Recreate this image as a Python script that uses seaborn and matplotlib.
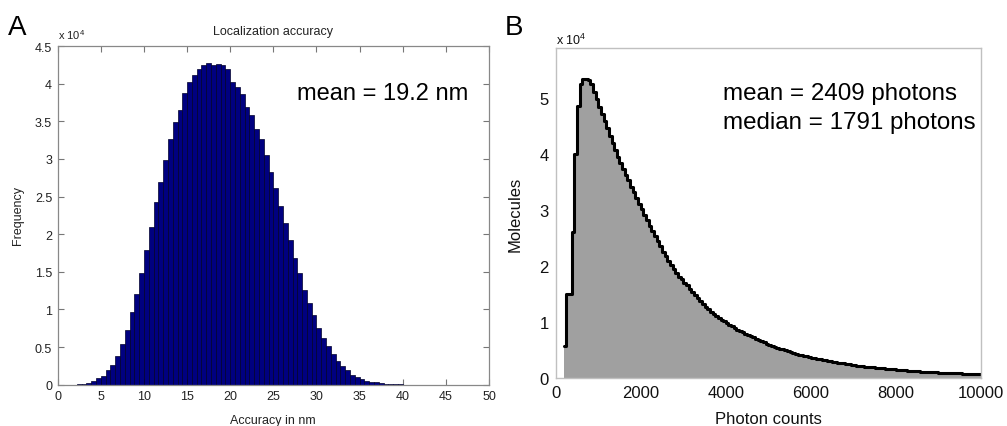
import numpy as np
import pandas as pd
import matplotlib
matplotlib.use("Agg")
import matplotlib.pyplot as plt
import matplotlib.ticker as mticker
import seaborn as sns

# ---------------- data ----------------
# Panel A: localization accuracy histogram (90 bins over 0-50 nm), counts in units of 1e4
acc_range = (0.0, 50.0)
acc_nbins = 90
acc_counts = [
    0, 0.0005, 0.001, 0.002, 0.006, 0.013, 0.027, 0.05, 0.085, 0.116,
    0.19, 0.26, 0.38, 0.54, 0.73, 0.96, 1.21, 1.49, 1.79, 2.10,
    2.43, 2.69, 2.98, 3.27, 3.49, 3.65, 3.87, 4.02, 4.11, 4.19,
    4.25, 4.27, 4.25, 4.26, 4.25, 4.19, 4.02, 3.95, 3.86, 3.69,
    3.58, 3.40, 3.27, 3.05, 2.83, 2.61, 2.38, 2.15, 1.92, 1.68,
    1.48, 1.26, 1.09, 0.93, 0.75, 0.62, 0.51, 0.41, 0.31, 0.25,
    0.19, 0.13, 0.10, 0.076, 0.053, 0.04, 0.03, 0.02, 0.013, 0.008,
    0.005, 0.003, 0.002, 0.001, 0.0008, 0.0005, 0.0004, 0.0003, 0.0003, 0.0002,
    0.0002, 0.0001, 0.0001, 0, 0, 0, 0, 0, 0, 0,
]
acc_xticks = [0, 5, 10, 15, 20, 25, 30, 35, 40, 45, 50]
acc_yticks = [0, 0.5, 1, 1.5, 2, 2.5, 3, 3.5, 4, 4.5]

# Panel B: photon count histogram (bins of 62.5 photons from 187.5 to 10000), units of 1e4
ph_start = 187.5
ph_stop = 10000.0
ph_counts = [
    0.57, 1.50, 1.50, 2.60, 4.00, 4.87, 5.25, 5.35, 5.35, 5.32,
    5.25, 5.12, 4.98, 4.85, 4.72, 4.59, 4.46, 4.33, 4.20, 4.07,
    3.95, 3.85, 3.74, 3.63, 3.53, 3.42, 3.32, 3.21, 3.11, 3.01,
    2.91, 2.82, 2.72, 2.63, 2.54, 2.44, 2.35, 2.25, 2.17, 2.09,
    2.01, 1.94, 1.87, 1.81, 1.76, 1.70, 1.65, 1.59, 1.54, 1.48,
    1.42, 1.37, 1.32, 1.27, 1.23, 1.18, 1.14, 1.11, 1.07, 1.04,
    1.01, 0.98, 0.95, 0.92, 0.89, 0.86, 0.84, 0.81, 0.79, 0.76,
    0.74, 0.72, 0.69, 0.67, 0.65, 0.63, 0.61, 0.59, 0.57, 0.555,
    0.54, 0.52, 0.505, 0.49, 0.475, 0.46, 0.44, 0.425, 0.41, 0.40,
    0.39, 0.38, 0.37, 0.36, 0.35, 0.34, 0.33, 0.32, 0.31, 0.30,
    0.295, 0.285, 0.275, 0.27, 0.26, 0.255, 0.245, 0.24, 0.23, 0.22,
    0.215, 0.21, 0.205, 0.20, 0.195, 0.19, 0.185, 0.18, 0.175, 0.17,
    0.165, 0.16, 0.157, 0.152, 0.148, 0.144, 0.14, 0.135, 0.131, 0.127,
    0.123, 0.12, 0.116, 0.113, 0.11, 0.107, 0.104, 0.101, 0.098, 0.096,
    0.094, 0.092, 0.09, 0.088, 0.086, 0.084, 0.082, 0.08, 0.078, 0.076,
    0.074, 0.072, 0.07, 0.068, 0.066, 0.064, 0.062,
]
ph_xticks = [0, 2000, 4000, 6000, 8000, 10000]
ph_yticks = [0, 1, 2, 3, 4, 5]

# ---------------- style ----------------
sns.set_style("white")
plt.rcParams["font.family"] = ["Liberation Sans", "DejaVu Sans"]

W, H = 1007, 427
fig = plt.figure(figsize=(W / 100, H / 100), dpi=100)


def fx(px):
    return px / W


def fy(py):
    return 1 - py / H


# ---------------- Panel A ----------------
axA = fig.add_axes([fx(57.7), fy(385.7), fx(489 - 57.7), (385.7 - 47) / H])
acc_edges = np.linspace(acc_range[0], acc_range[1], acc_nbins + 1)
dfA = pd.DataFrame({"acc": (acc_edges[:-1] + acc_edges[1:]) / 2,
                    "count": acc_counts})
sns.histplot(data=dfA, x="acc", weights="count", bins=list(acc_edges), ax=axA,
             color="#000080", edgecolor="#00002a", linewidth=0.5, alpha=1.0)
axA.set_xlim(0, 50)
axA.set_ylim(0, 4.5)
axA.set_xticks(acc_xticks)
axA.set_yticks(acc_yticks)
axA.yaxis.set_major_formatter(mticker.FormatStrFormatter("%g"))
axA.set_xlabel("")
axA.set_ylabel("")
axA.tick_params(direction="in", length=4, width=0.8, color="#777777",
                labelsize=9, labelcolor="#222222", top=True, right=True,
                bottom=True, left=True, pad=4)
for s in axA.spines.values():
    s.set_color("#888888")
    s.set_linewidth(0.9)

fig.text(fx(273), fy(35), "Localization accuracy", ha="center", va="baseline",
         fontsize=9, color="#222222")
fig.text(fx(58), fy(40), r"x 10$^{\mathregular{4}}$", ha="left", va="baseline",
         fontsize=8, color="#222222")
fig.text(fx(18), fy(216), "Frequency", rotation=90, ha="center", va="center",
         fontsize=9, color="#222222")
fig.text(fx(273), fy(421), "Accuracy in nm", ha="center", va="center",
         fontsize=9, color="#222222")
fig.text(fx(297), fy(100), "mean = 19.2 nm", ha="left", va="baseline",
         fontsize=17, color="black")
fig.text(fx(8), fy(35), "A", ha="left", va="baseline", fontsize=20, color="black")

# ---------------- Panel B ----------------
axB = fig.add_axes([fx(555.7), fy(378.7), fx(981 - 555.7), (378.7 - 49) / H])
ph_edges = np.linspace(ph_start, ph_stop, len(ph_counts) + 1)
dfB = pd.DataFrame({"photons": (ph_edges[:-1] + ph_edges[1:]) / 2,
                    "count": ph_counts})
sns.histplot(data=dfB, x="photons", weights="count", bins=list(ph_edges), ax=axB,
             element="step", fill=True, color="#a0a0a0", alpha=1.0, linewidth=0)
sns.histplot(data=dfB, x="photons", weights="count", bins=list(ph_edges), ax=axB,
             element="step", fill=False, color="black", linewidth=2.2)
axB.set_xlim(0, 10000)
axB.set_ylim(0, 5.9)
axB.set_xticks(ph_xticks)
axB.set_yticks(ph_yticks)
axB.set_xlabel("")
axB.set_ylabel("")
axB.tick_params(direction="in", length=3, width=0.8, color="#bbbbbb",
                labelsize=12, labelcolor="#111111", pad=5)
axB.tick_params(axis="x", length=0)
for s in axB.spines.values():
    s.set_color("#c0c0c0")
    s.set_linewidth(1.0)

fig.text(fx(556), fy(45), r"x 10$^{\mathregular{4}}$", ha="left", va="baseline",
         fontsize=9, color="#111111")
fig.text(fx(515), fy(214), "Molecules", rotation=90, ha="center", va="center",
         fontsize=12, color="#111111")
fig.text(fx(768), fy(420), "Photon counts", ha="center", va="center",
         fontsize=12, color="#111111")
fig.text(fx(723), fy(100), "mean = 2409 photons", ha="left", va="baseline",
         fontsize=17.4, color="black")
fig.text(fx(723), fy(129), "median = 1791 photons", ha="left", va="baseline",
         fontsize=17.4, color="black")
fig.text(fx(505), fy(35), "B", ha="left", va="baseline", fontsize=20, color="black")

fig.savefig("out.png", dpi=100)
